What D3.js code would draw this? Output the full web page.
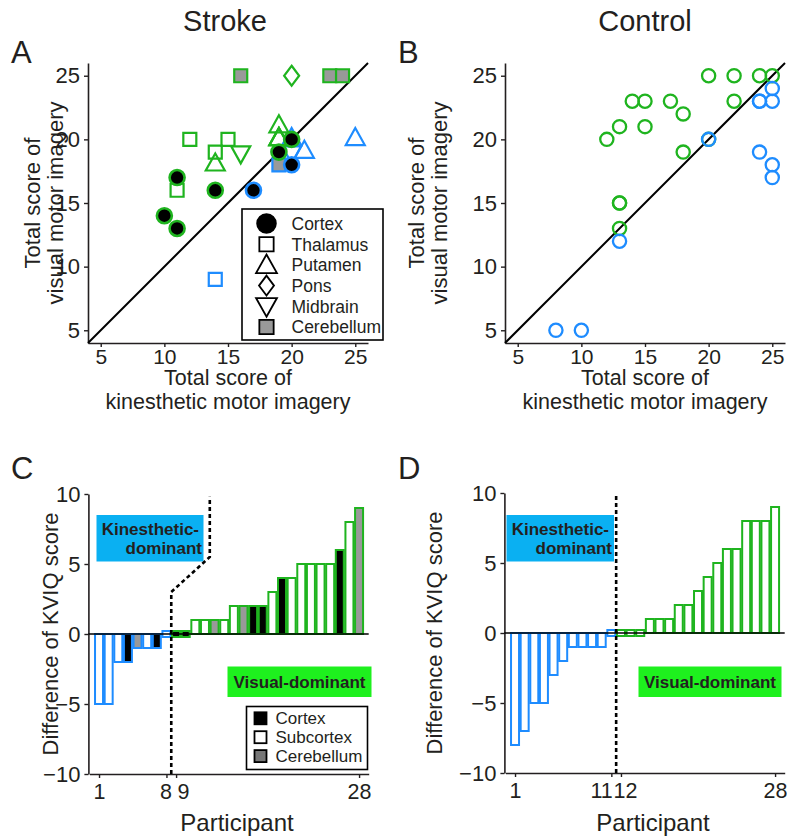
<!DOCTYPE html>
<html><head><meta charset="utf-8">
<script src="https://cdn.jsdelivr.net/npm/d3@7"></script>
<style>
body{margin:0;background:#fff}
text{font-family:"Liberation Sans",Arial,sans-serif;fill:#231f20}
</style>
</head><body>
<svg id="c" width="787" height="839"></svg>
<script>
// ---------- DATA ----------
// Panel A (stroke): kinesthetic score, visual score, lesion region, dominance side
const strokeK      = [20,20,10,11,11,11,12,14,15,14,14,16,16,20,23,24,19,19,19,19,21,19,20,17,25,14,19,20];
const strokeV      = [20,19,14,13,16,17,20,19,20,18,16,19,25,25,25,25,21,20,20,20,19,18,18,16,20, 9,19,20];
const strokeRegion = ["putamen","midbrain","cortex","cortex","thalamus","cortex","thalamus","thalamus","thalamus","putamen","cortex","midbrain","cerebellum","pons","cerebellum","cerebellum","putamen","putamen","putamen","putamen","putamen","cerebellum","cortex","cortex","putamen","thalamus","cortex","cortex"];
const strokeSide   = ["K","K","V","V","V","V","V","V","V","V","V","V","V","V","V","V","V","V","V","V","K","K","K","K","K","K","V","V"];
// Panel B (control)
const controlK    = [12,13,13,13,14,15,17,18,22,15,18,20,22,24,25,20,13,24,25,25,20,24,25,25,13,8,10,24];
const controlV    = [20,21,15,13,23,23,23,22,23,21,19,25,25,25,25,20,15,23,23,24,20,19,18,17,12,5,5,23];
const controlSide = ["V","V","V","V","V","V","V","V","V","V","V","V","V","V","V","V","V","K","K","K","K","K","K","K","K","K","K","K"];
// Panel C (stroke): difference of KVIQ score per participant
const participantsC = d3.range(1,29);
const diffC   = [-5,-5,-2,-2,-1,-1,-1,0,0,0,1,1,1,1,2,2,2,2,3,4,4,5,5,5,5,6,8,9];
const regionC = ["subcortex","subcortex","subcortex","cortex","cerebellum","subcortex","cortex","subcortex","cortex","cortex","subcortex","subcortex","cerebellum","subcortex","subcortex","cerebellum","cortex","cortex","subcortex","cortex","subcortex","subcortex","subcortex","subcortex","subcortex","cortex","subcortex","cerebellum"];
const kDominantC = 8;
// Panel D (control)
const participantsD = d3.range(1,29);
const diffD = [-8,-7,-5,-5,-3,-2,-1,-1,-1,-1,0,0,0,0,1,1,1,2,2,3,4,5,6,6,8,8,8,9];
const kDominantD = 11;
// ticks / labels
const scoreTicks = [5,10,15,20,25];
const diffTicks = [10,5,0,-5,-10];
const partTicksC = [1,8,9,28];
const partTicksD = [1,11,12,28];
const legendA = ["Cortex","Thalamus","Putamen","Pons","Midbrain","Cerebellum"];
const legendAKeys = ["cortex","thalamus","putamen","pons","midbrain","cerebellum"];
const legendC = ["Cortex","Subcortex","Cerebellum"];
const legendCKeys = ["cortex","subcortex","cerebellum"];

// ---------- STYLE ----------
const GREEN = "#1fb41f", BLUE = "#1e8cff", GRAY = "#999999", INK = "#231f20";
const KBOX = "#0ab0f2", VBOX = "#1ef01e";
const svg = d3.select("#c");

function shape(region, s){
  s = s || 1;
  switch(region){
    case "cortex": { const r=7.5*s; return `M${r},0A${r},${r} 0 1,1 ${-r},0A${r},${r} 0 1,1 ${r},0Z`; }
    case "thalamus":
    case "cerebellum": { const h=6.5*s; return `M${-h},${-h}H${h}V${h}H${-h}Z`; }
    case "putamen": return `M0,${-11.3*s}L${9.5*s},${5.7*s}L${-9.5*s},${5.7*s}Z`;
    case "midbrain": return `M0,${11.3*s}L${9.5*s},${-5.7*s}L${-9.5*s},${-5.7*s}Z`;
    case "pons": return `M0,${-10*s}L${7.5*s},0L0,${10*s}L${-7.5*s},0Z`;
  }
}
function fillOf(region){ return region==="cortex"?"#000":(region==="cerebellum"?GRAY:"none"); }

function styleAxis(g, fs){
  g.selectAll(".domain").attr("stroke",INK).attr("stroke-width",1.6);
  g.selectAll(".tick line").attr("stroke",INK).attr("stroke-width",1.4);
  g.selectAll(".tick text").attr("font-size",fs).attr("fill",INK)
    .attr("font-family",'"Liberation Sans",Arial,sans-serif');
}

// ---------- SCATTER PANELS ----------
function scatterAxes(x, y, cx, labelX1, labelX2){
  const gx = svg.append("g").attr("transform",`translate(0,${y.range()[0]})`)
    .call(d3.axisBottom(x).tickValues(scoreTicks).tickSize(4).tickSizeOuter(0).tickPadding(2));
  styleAxis(gx, 21);
  const gy = svg.append("g").attr("transform",`translate(${x.range()[0]},0)`)
    .call(d3.axisLeft(y).tickValues(scoreTicks).tickSize(4).tickSizeOuter(0).tickPadding(4));
  styleAxis(gy, 22);
  // diagonal
  svg.append("line").attr("x1",x(4)).attr("y1",y(4)).attr("x2",x(26)).attr("y2",y(26))
    .attr("stroke","#000").attr("stroke-width",2);
  // x label (two lines)
  const xl = svg.append("text").attr("x",cx).attr("y",385).attr("text-anchor","middle").attr("font-size",21.5);
  xl.append("tspan").attr("x",cx).attr("y",385).text("Total score of");
  xl.append("tspan").attr("x",cx).attr("y",409).text("kinesthetic motor imagery");
  // y label (two lines)
  const cy = (y.range()[0]+y.range()[1])/2;
  const yl = svg.append("text").attr("transform",`translate(${labelX1},${cy}) rotate(-90)`).attr("text-anchor","middle").attr("font-size",22);
  yl.append("tspan").attr("x",0).attr("y",0).text("Total score of");
  yl.append("tspan").attr("x",0).attr("y",labelX2-labelX1).text("visual motor imagery");
}

const xA = d3.scaleLinear().domain([4,26]).range([88,368]);
const yA = d3.scaleLinear().domain([4,26]).range([343,63]);
scatterAxes(xA, yA, 228, 40, 63);
svg.append("g").selectAll("path").data(d3.range(strokeK.length)).join("path")
  .attr("transform",i=>`translate(${xA(strokeK[i])},${yA(strokeV[i])})`)
  .attr("d",i=>shape(strokeRegion[i]))
  .attr("fill",i=>fillOf(strokeRegion[i]))
  .attr("stroke",i=>strokeSide[i]==="V"?GREEN:BLUE)
  .attr("stroke-width",i=>strokeRegion[i]==="cortex"?2.6:2.2);

// legend A
const lg = svg.append("g");
lg.append("rect").attr("x",242).attr("y",209).attr("width",141).attr("height",131)
  .attr("fill","#fff").attr("stroke","#000").attr("stroke-width",1.6);
legendA.forEach((lab,i)=>{
  const yy = 223.5 + i*20.7;
  lg.append("path").attr("transform",`translate(266.5,${yy+(legendAKeys[i]==="putamen"?2:(legendAKeys[i]==="midbrain"?-2:0))})`)
    .attr("d",shape(legendAKeys[i], legendAKeys[i]==="cortex"?1.25:(legendAKeys[i]==="pons"?1.0:1.1)))
    .attr("fill",legendAKeys[i]==="cortex"?"#000":(legendAKeys[i]==="cerebellum"?GRAY:"#fff"))
    .attr("stroke","#000").attr("stroke-width",1.8);
  lg.append("text").attr("x",291.5).attr("y",yy+6.3).attr("font-size",17.5).text(lab);
});

const xB = d3.scaleLinear().domain([4,26]).range([505,785]);
const yB = d3.scaleLinear().domain([4,26]).range([343,63]);
scatterAxes(xB, yB, 645, 424, 447);
svg.append("g").selectAll("circle").data(d3.range(controlK.length)).join("circle")
  .attr("cx",i=>xB(controlK[i])).attr("cy",i=>yB(controlV[i])).attr("r",6.6)
  .attr("fill","none").attr("stroke",i=>controlSide[i]==="V"?GREEN:BLUE).attr("stroke-width",2.3);

// ---------- BAR PANELS ----------
function barPanel(x, y, parts, diffs, regions, kDom, ticks, boxes, dotted, ylabX){
  const y0 = y(0);
  const gx = svg.append("g").attr("transform",`translate(0,${y.range()[0]})`)
    .call(d3.axisBottom(x).tickValues(ticks).tickSize(4).tickSizeOuter(0).tickPadding(6));
  styleAxis(gx, 21.5);
  const gy = svg.append("g").attr("transform",`translate(${x.range()[0]-1},0)`)
    .call(d3.axisLeft(y).tickValues(diffTicks).tickSize(4).tickSizeOuter(0).tickPadding(4));
  styleAxis(gy, 22);
  // boxes
  const kb = boxes.k, vb = boxes.v;
  svg.append("rect").attr("x",kb[0]).attr("y",515).attr("width",kb[1]-kb[0]).attr("height",46.5).attr("fill",KBOX);
  svg.append("text").attr("x",kb[2]).attr("y",534.5).attr("text-anchor","end").attr("font-size",17).attr("font-weight","bold").attr("fill","#000").text("Kinesthetic-");
  svg.append("text").attr("x",kb[2]+3).attr("y",554).attr("text-anchor","end").attr("font-size",17).attr("font-weight","bold").attr("fill","#000").text("dominant");
  svg.append("rect").attr("x",vb[0]).attr("y",666.5).attr("width",vb[1]-vb[0]).attr("height",30.5).attr("fill",VBOX);
  svg.append("text").attr("x",(vb[0]+vb[1])/2).attr("y",687.5).attr("text-anchor","middle").attr("font-size",17).attr("font-weight","bold").attr("fill","#000").text("Visual-dominant");
  // bars
  svg.append("g").selectAll("rect").data(d3.range(parts.length)).join("rect")
    .attr("x",i=>x(parts[i])-4).attr("width",8)
    .attr("y",i=>diffs[i]===0? y0-3 : Math.min(y(diffs[i]),y0))
    .attr("height",i=>diffs[i]===0? 6 : Math.abs(y(diffs[i])-y0))
    .attr("fill",i=>regions? (regions[i]==="cortex"?"#000":(regions[i]==="cerebellum"?GRAY:"#fff")) : "#fff")
    .attr("stroke",i=>parts[i]<=kDom?BLUE:GREEN).attr("stroke-width",2);
  // zero line
  svg.append("line").attr("x1",x.range()[0]-1).attr("x2",x.range()[1]).attr("y1",y0).attr("y2",y0)
    .attr("stroke","#000").attr("stroke-width",1.6);
  // dotted separator
  svg.append("path").attr("d",d3.line().x(d=>x(d[0])).y(d=>y(d[1]))(dotted))
    .attr("fill","none").attr("stroke","#000").attr("stroke-width",2.6).attr("stroke-dasharray","4,3");
  // labels
  const cy = (y.range()[0]+y.range()[1])/2;
  svg.append("text").attr("transform",`translate(${ylabX},${cy}) rotate(-90)`).attr("text-anchor","middle").attr("font-size",22).text("Difference of KVIQ score");
  svg.append("text").attr("x",(x.range()[0]+x.range()[1])/2 + 8).attr("y",831).attr("text-anchor","middle").attr("font-size",24).text("Participant");
  return gx;
}

const xC = d3.scaleLinear().domain([0,29]).range([89.4,368.7]);
const yC = d3.scaleLinear().domain([-10,10]).range([774,494]);
const gxC = barPanel(xC, yC, participantsC, diffC, regionC, kDominantC, partTicksC,
  {k:[96.5,203.5,199], v:[227.5,371.5]}, [[8.5,-10],[8.5,3],[12.5,5.5],[12.5,9.8]], 58);
gxC.selectAll(".tick text").filter(d=>d===9).attr("text-anchor","start").attr("dx",1);
gxC.selectAll(".tick text").filter(d=>d===8).attr("dx",-1);

// legend C
const lc = svg.append("g");
lc.append("rect").attr("x",246.5).attr("y",706.5).attr("width",121).attr("height",63)
  .attr("fill","#fff").attr("stroke","#000").attr("stroke-width",1.6);
legendC.forEach((lab,i)=>{
  const yy = 718.3 + i*18.9;
  lc.append("rect").attr("x",254.5).attr("y",yy-6).attr("width",12).attr("height",12)
    .attr("fill",legendCKeys[i]==="cortex"?"#000":(legendCKeys[i]==="cerebellum"?"#777":"#fff"))
    .attr("stroke","#000").attr("stroke-width",1.8);
  lc.append("text").attr("x",275.5).attr("y",yy+6).attr("font-size",17).text(lab);
});

const xD = d3.scaleLinear().domain([0,29]).range([505.4,784.7]);
const yD = d3.scaleLinear().domain([-10,10]).range([773,493]);
const gxD = barPanel(xD, yD, participantsD, diffD, null, kDominantD, partTicksD,
  {k:[506.5,614,609], v:[638.5,781.5]}, [[11.5,-10],[11.5,10]], 442);
gxD.selectAll(".tick text").filter(d=>d===11).attr("text-anchor","end").attr("dx",1);
gxD.selectAll(".tick text").filter(d=>d===12).attr("text-anchor","start").attr("dx",-8);

// ---------- TITLES ----------
svg.append("text").attr("x",225).attr("y",31).attr("text-anchor","middle").attr("font-size",29).text("Stroke");
svg.append("text").attr("x",645).attr("y",31).attr("text-anchor","middle").attr("font-size",29).text("Control");
[["A",11,63],["B",398,63],["C",11,479],["D",398,479]].forEach(([t,x,y])=>{
  svg.append("text").attr("x",x).attr("y",y).attr("font-size",31).text(t);
});
</script>
</body></html>
